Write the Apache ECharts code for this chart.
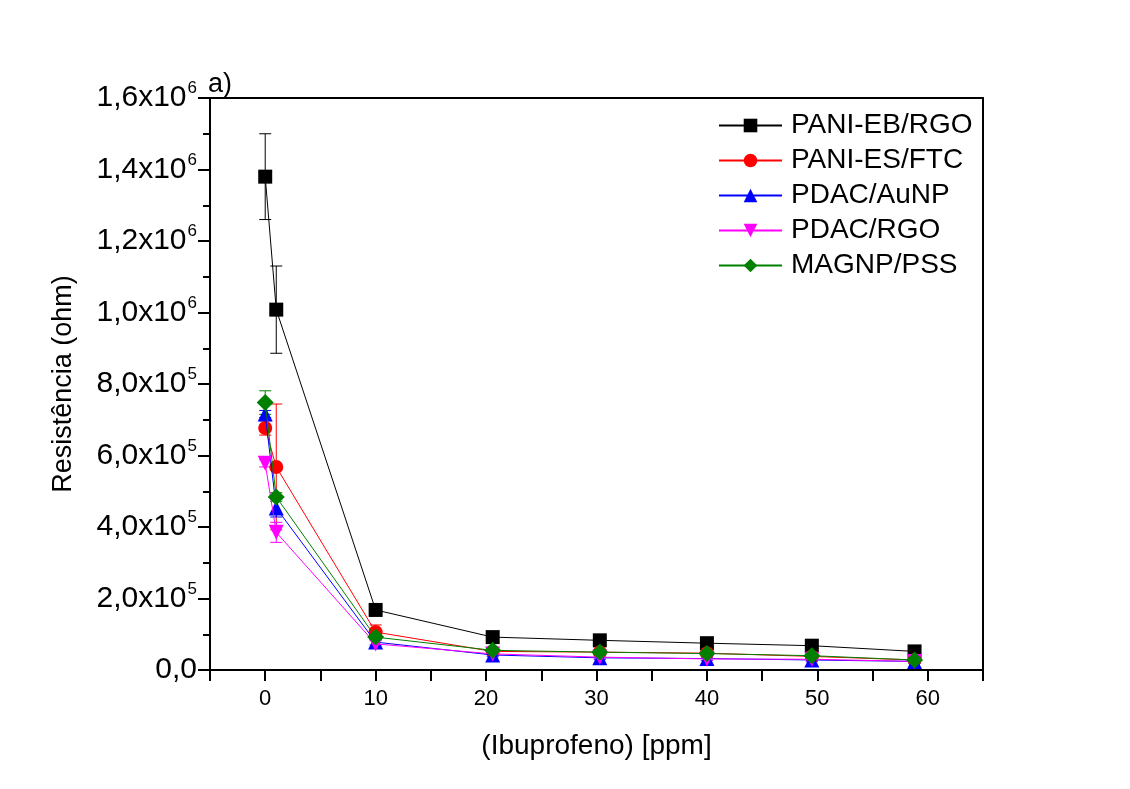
<!DOCTYPE html>
<html>
<head>
<meta charset="utf-8">
<script src="https://cdn.jsdelivr.net/npm/echarts@6/dist/echarts.min.js"></script>
<style>
html,body{margin:0;padding:0;background:#fff;}
#chart{width:1130px;height:789px;}
</style>
</head>
<body>
<div id="chart"></div>
<script>
// concentration (ppm)
var xValues = [0, 1, 10, 20.6, 30.3, 40, 49.5, 58.8];
var seriesNames = ['PANI-EB/RGO', 'PANI-ES/FTC', 'PDAC/AuNP', 'PDAC/RGO', 'MAGNP/PSS'];
// resistance (ohm)
var paniEbRgo   = [1380000, 1008000, 168000, 92000, 83000, 75000, 68000, 52000];
var paniEsFtc   = [677000, 568000, 106000, 52000, 50000, 47000, 38000, 28000];
var pdacAunp    = [716000, 453000, 78000, 42000, 34000, 32000, 28000, 24000];
var pdacRgo     = [578000, 385000, 73000, 45000, 36000, 31000, 30000, 24000];
var magnpPss    = [748000, 484000, 92000, 55000, 50000, 46000, 40000, 28000];
// error bars (±)
var errPaniEbRgo = [120000, 122000, 0, 0, 0, 0, 0, 0];
var errPaniEsFtc = [20000, 176000, 20000, 5000, 5000, 5000, 5000, 5000];
var errPdacAunp  = [10000, 25000, 8000, 5000, 5000, 5000, 5000, 5000];
var errPdacRgo   = [10000, 28000, 10000, 5000, 5000, 5000, 5000, 5000];
var errMagnpPss  = [33000, 12000, 8000, 5000, 5000, 5000, 5000, 5000];
var yTickLabels = {0:'0,0', 200000:'2,0x10|5', 400000:'4,0x10|5', 600000:'6,0x10|5', 800000:'8,0x10|5',
  1000000:'1,0x10|6', 1200000:'1,2x10|6', 1400000:'1,4x10|6', 1600000:'1,6x10|6'};

var allValues = [paniEbRgo, paniEsFtc, pdacAunp, pdacRgo, magnpPss];
var allErrors = [errPaniEbRgo, errPaniEsFtc, errPdacAunp, errPdacRgo, errMagnpPss];
var colors = ['#000000', '#ff0000', '#0000ff', '#ff00ff', '#008000'];
var symbols = ['rect', 'circle', 'triangle', 'triangle', 'diamond'];
var rotations = [0, 0, 0, 180, 0];
var sizes = [14, 14, 15, 15, 17];

var chart = echarts.init(document.getElementById('chart'), null, {renderer: 'canvas'});
var font = 'Liberation Sans, Arial, sans-serif';

var series = [];
allValues.forEach(function (vals, i) {
  var errs = allErrors[i];
  series.push({
    type: 'custom',
    name: seriesNames[i] + ' err',
    z: 1,
    silent: true,
    data: xValues.map(function (x, k) { return [x, vals[k] - errs[k], vals[k] + errs[k]]; }),
    renderItem: function (params, api) {
      var lo = api.coord([api.value(0), api.value(1)]);
      var hi = api.coord([api.value(0), api.value(2)]);
      var w = 6;
      var st = {stroke: colors[i], lineWidth: 1};
      return {type: 'group', children: [
        {type: 'line', shape: {x1: lo[0], y1: lo[1], x2: hi[0], y2: hi[1]}, style: st},
        {type: 'line', shape: {x1: lo[0] - w, y1: lo[1], x2: lo[0] + w, y2: lo[1]}, style: st},
        {type: 'line', shape: {x1: hi[0] - w, y1: hi[1], x2: hi[0] + w, y2: hi[1]}, style: st}
      ]};
    }
  });
});
allValues.forEach(function (vals, i) {
  series.push({
    type: 'line',
    name: seriesNames[i],
    z: 2 + i,
    data: xValues.map(function (x, k) { return [x, vals[k]]; }),
    symbol: symbols[i],
    symbolSize: sizes[i],
    symbolRotate: rotations[i],
    showAllSymbol: true,
    lineStyle: {color: colors[i], width: 1},
    itemStyle: {color: colors[i], borderWidth: 0},
    emphasis: {disabled: true},
    animation: false
  });
});

var option = {
  animation: false,
  backgroundColor: '#ffffff',
  grid: {left: 210, right: 147, top: 98, bottom: 119, containLabel: false},
  legend: {
    data: seriesNames,
    orient: 'vertical',
    left: 713,
    top: 103,
    itemWidth: 63,
    itemHeight: 17,
    itemGap: 0,
    textStyle: {fontFamily: font, fontSize: 28, color: '#000', lineHeight: 35, padding: [0, 0, 0, 4]},
    selectedMode: false
  },
  xAxis: [{
    type: 'value',
    min: -5, max: 65, interval: 5,
    name: '(Ibuprofeno) [ppm]',
    nameLocation: 'middle',
    nameGap: 62,
    nameTextStyle: {fontFamily: font, fontSize: 28, color: '#000'},
    axisLine: {show: true, onZero: false, lineStyle: {color: '#000', width: 2}},
    axisTick: {show: true, inside: false, length: 11, lineStyle: {color: '#000', width: 2}},
    minorTick: {show: false},
    splitLine: {show: false},
    axisLabel: {
      fontFamily: font, fontSize: 22, color: '#000', margin: 18,
      formatter: function (v) { return (v % 10 === 0 && v >= 0 && v <= 60) ? String(v) : ''; }
    }
  }, {
    type: 'value', position: 'top', min: -5, max: 65,
    axisLine: {show: true, onZero: false, lineStyle: {color: '#000', width: 2}},
    axisTick: {show: false}, axisLabel: {show: false}, splitLine: {show: false}
  }],
  yAxis: [{
    type: 'value',
    min: 0, max: 1600000, interval: 200000,
    name: 'Resistência (ohm)',
    nameLocation: 'middle',
    nameGap: 133,
    nameTextStyle: {fontFamily: font, fontSize: 27, color: '#000'},
    axisLine: {show: true, onZero: false, lineStyle: {color: '#000', width: 2}},
    axisTick: {show: true, inside: false, length: 12, lineStyle: {color: '#000', width: 2}},
    minorTick: {show: true, splitNumber: 2, length: 7, lineStyle: {color: '#000', width: 2}},
    splitLine: {show: false},
    axisLabel: {
      margin: 13,
      formatter: function (v) {
        var s = yTickLabels[v];
        if (s === undefined) return '';
        var p = s.split('|');
        if (p.length === 1) return '{b|' + p[0] + '}';
        return '{b|' + p[0] + '}{s|' + p[1] + '}';
      },
      rich: {
        b: {fontFamily: font, fontSize: 30, color: '#000', lineHeight: 32},
        s: {fontFamily: font, fontSize: 17, color: '#000', padding: [0, 0, 19, 1], lineHeight: 32}
      }
    }
  }, {
    type: 'value', position: 'right', min: 0, max: 1600000,
    axisLine: {show: true, onZero: false, lineStyle: {color: '#000', width: 2}},
    axisTick: {show: false}, axisLabel: {show: false}, splitLine: {show: false}
  }],
  graphic: [{
    type: 'text', left: 208, top: 71,
    style: {text: 'a)', fontFamily: font, fontSize: 27, fill: '#000'}
  }],
  series: series
};
chart.setOption(option);
</script>
</body>
</html>
